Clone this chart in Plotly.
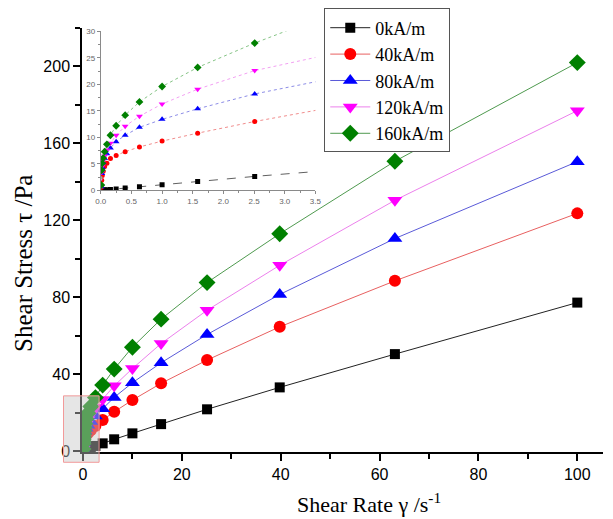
import plotly.graph_objects as go

# Shear rate sweep (1/s), five points per decade
shear_rate = [0.01, 0.0158, 0.0251, 0.0398, 0.0631, 0.1, 0.158, 0.251, 0.398, 0.631,
              1.0, 1.58, 2.51, 3.98, 6.31, 10.0, 15.8, 25.1, 39.8, 63.1, 100.0]

# Shear stress (Pa) for each magnetic field strength
stress_0 = [0.01, 0.02, 0.03, 0.05, 0.08, 0.12, 0.18, 0.28, 0.43, 0.70,
            1.05, 1.70, 2.64, 4.0, 6.1, 9.2, 14.0, 21.7, 33.1, 50.4, 77.2]
stress_40 = [0.6, 1.9, 2.8, 3.6, 4.5, 5.1, 6.0, 6.6, 7.3, 8.2,
             9.3, 10.8, 13.0, 16.1, 20.4, 26.5, 35.2, 47.3, 64.6, 88.5, 123.6]
stress_80 = [0.7, 3.2, 4.3, 5.2, 6.0, 6.9, 8.0, 9.2, 10.4, 11.9,
             13.4, 15.4, 18.2, 22.0, 27.9, 35.5, 45.9, 60.6, 81.4, 110.5, 150.5]
stress_120 = [0.8, 3.4, 4.6, 5.6, 6.5, 7.6, 8.9, 10.4, 12.1, 14.0,
              16.3, 19.1, 22.6, 26.8, 33.9, 42.9, 55.9, 73.2, 96.6, 130.4, 177.0]
stress_160 = [1.0, 3.8, 5.1, 6.1, 7.3, 8.7, 10.4, 12.2, 14.2, 16.7,
              19.6, 23.2, 27.8, 34.3, 42.6, 54.0, 68.6, 87.6, 113.0, 150.7, 202.0]

series_names = ["0kA/m", "40kA/m", "80kA/m", "120kA/m", "160kA/m"]
series_values = [stress_0, stress_40, stress_80, stress_120, stress_160]

marker_colors = ["#000000", "#ff0000", "#0000ff", "#ff00ff", "#008000"]
line_colors = ["#222222", "#e86060", "#5a5ad8", "#ec80ec", "#4f9a4f"]
inset_line_colors = ["#606060", "#f08c8c", "#8c8ce6", "#f2a0f2", "#86c486"]
symbols = ["square", "circle", "triangle-up", "triangle-down", "diamond"]
sizes = [10, 12, 13, 13, 13]
inset_sizes = [5, 5, 6, 6, 6]

x_range = [-0.2, 105.2]
y_range = [-0.5, 220]

fig = go.Figure()

# Main curves
for name, vals, mc, lc, sym, sz in zip(series_names, series_values, marker_colors,
                                       line_colors, symbols, sizes):
    fig.add_trace(go.Scatter(
        x=shear_rate, y=vals, name=name, mode="lines+markers",
        line=dict(color=lc, width=1),
        marker=dict(symbol=sym, size=sz, color=mc, line=dict(width=0)),
        xaxis="x", yaxis="y",
    ))

# Low shear-rate detail in the inset
for name, vals, mc, lc, sym, sz in zip(series_names, series_values, marker_colors,
                                       inset_line_colors, symbols, inset_sizes):
    fig.add_trace(go.Scatter(
        x=shear_rate, y=vals, name=name, mode="lines+markers", showlegend=False,
        line=dict(color=lc, width=1, dash="dash" if name == "0kA/m" else "dot"),
        marker=dict(symbol=sym, size=sz, color=mc, line=dict(width=0)),
        xaxis="x2", yaxis="y2",
    ))

# Region of the main axes that the inset magnifies
box_x = [-3.94, 3.26]
box_y = [-5.85, 28.7]


def to_paper(v, rng):
    return (v - rng[0]) / (rng[1] - rng[0])


fig.add_shape(
    type="rect", xref="paper", yref="paper", layer="above",
    x0=to_paper(box_x[0], x_range), x1=to_paper(box_x[1], x_range),
    y0=to_paper(box_y[0], y_range), y1=to_paper(box_y[1], y_range),
    fillcolor="rgba(200,200,200,0.45)", line=dict(color="#f29a9a", width=1),
)

axis_font = dict(family="Liberation Sans, Arial, sans-serif", size=16, color="#000000")
inset_font = dict(family="Liberation Sans, Arial, sans-serif", size=8, color="#666666")
serif = "Liberation Serif, Times New Roman, serif"

fig.update_layout(
    width=613, height=519,
    margin=dict(l=82, r=4, t=28, b=67),
    paper_bgcolor="white", plot_bgcolor="white",
    showlegend=True,
    legend=dict(
        x=0.465, y=1.046, xanchor="left", yanchor="top",
        font=dict(family=serif, size=18, color="#000000"),
        bgcolor="white", bordercolor="#555555", borderwidth=1,
        tracegroupgap=0, itemwidth=40,
    ),
    xaxis=dict(
        range=x_range, domain=[0, 1], anchor="y",
        showline=True, linecolor="black", linewidth=1.5,
        ticks="outside", ticklen=7, tickwidth=1.5, tickcolor="black",
        tick0=0, dtick=20, showgrid=False, zeroline=False,
        minor=dict(dtick=10, tick0=0, ticks="outside", ticklen=5, tickwidth=1.5,
                   tickcolor="black", showgrid=False),
        tickfont=axis_font,
    ),
    yaxis=dict(
        range=y_range, domain=[0, 1], anchor="x",
        showline=True, linecolor="black", linewidth=1.5,
        ticks="outside", ticklen=7, tickwidth=1.5, tickcolor="black",
        tick0=0, dtick=40, showgrid=False, zeroline=False,
        minor=dict(dtick=20, tick0=0, ticks="outside", ticklen=5, tickwidth=1.5,
                   tickcolor="black", showgrid=False),
        tickfont=axis_font,
    ),
    xaxis2=dict(
        range=[0, 3.5], domain=[0.036, 0.448], anchor="y2",
        showline=True, linecolor="#8a8a8a", linewidth=1,
        ticks="outside", ticklen=3, tickwidth=1, tickcolor="#8a8a8a",
        tick0=0, dtick=0.5, tickformat=".1f", showgrid=False, zeroline=False,
        minor=dict(dtick=0.25, tick0=0, ticks="outside", ticklen=2, tickwidth=1,
                   tickcolor="#8a8a8a", showgrid=False),
        tickfont=inset_font,
    ),
    yaxis2=dict(
        range=[0, 30], domain=[0.617, 0.992], anchor="x2",
        showline=True, linecolor="#8a8a8a", linewidth=1,
        ticks="outside", ticklen=3, tickwidth=1, tickcolor="#8a8a8a",
        tick0=0, dtick=5, showgrid=False, zeroline=False,
        minor=dict(dtick=2.5, tick0=0, ticks="outside", ticklen=2, tickwidth=1,
                   tickcolor="#8a8a8a", showgrid=False),
        tickfont=inset_font,
    ),
    annotations=[
        dict(text="Shear Stress τ /Pa", xref="paper", yref="paper",
             x=-0.112, y=0.445, xanchor="center", yanchor="middle",
             textangle=-90, showarrow=False,
             font=dict(family=serif, size=25, color="#000000")),
        dict(text="Shear Rate γ /s<sup>-1</sup>", xref="paper", yref="paper",
             x=0.55, y=-0.12, xanchor="center", yanchor="middle",
             showarrow=False,
             font=dict(family=serif, size=22, color="#000000")),
    ],
)

fig.write_html("out.html")
